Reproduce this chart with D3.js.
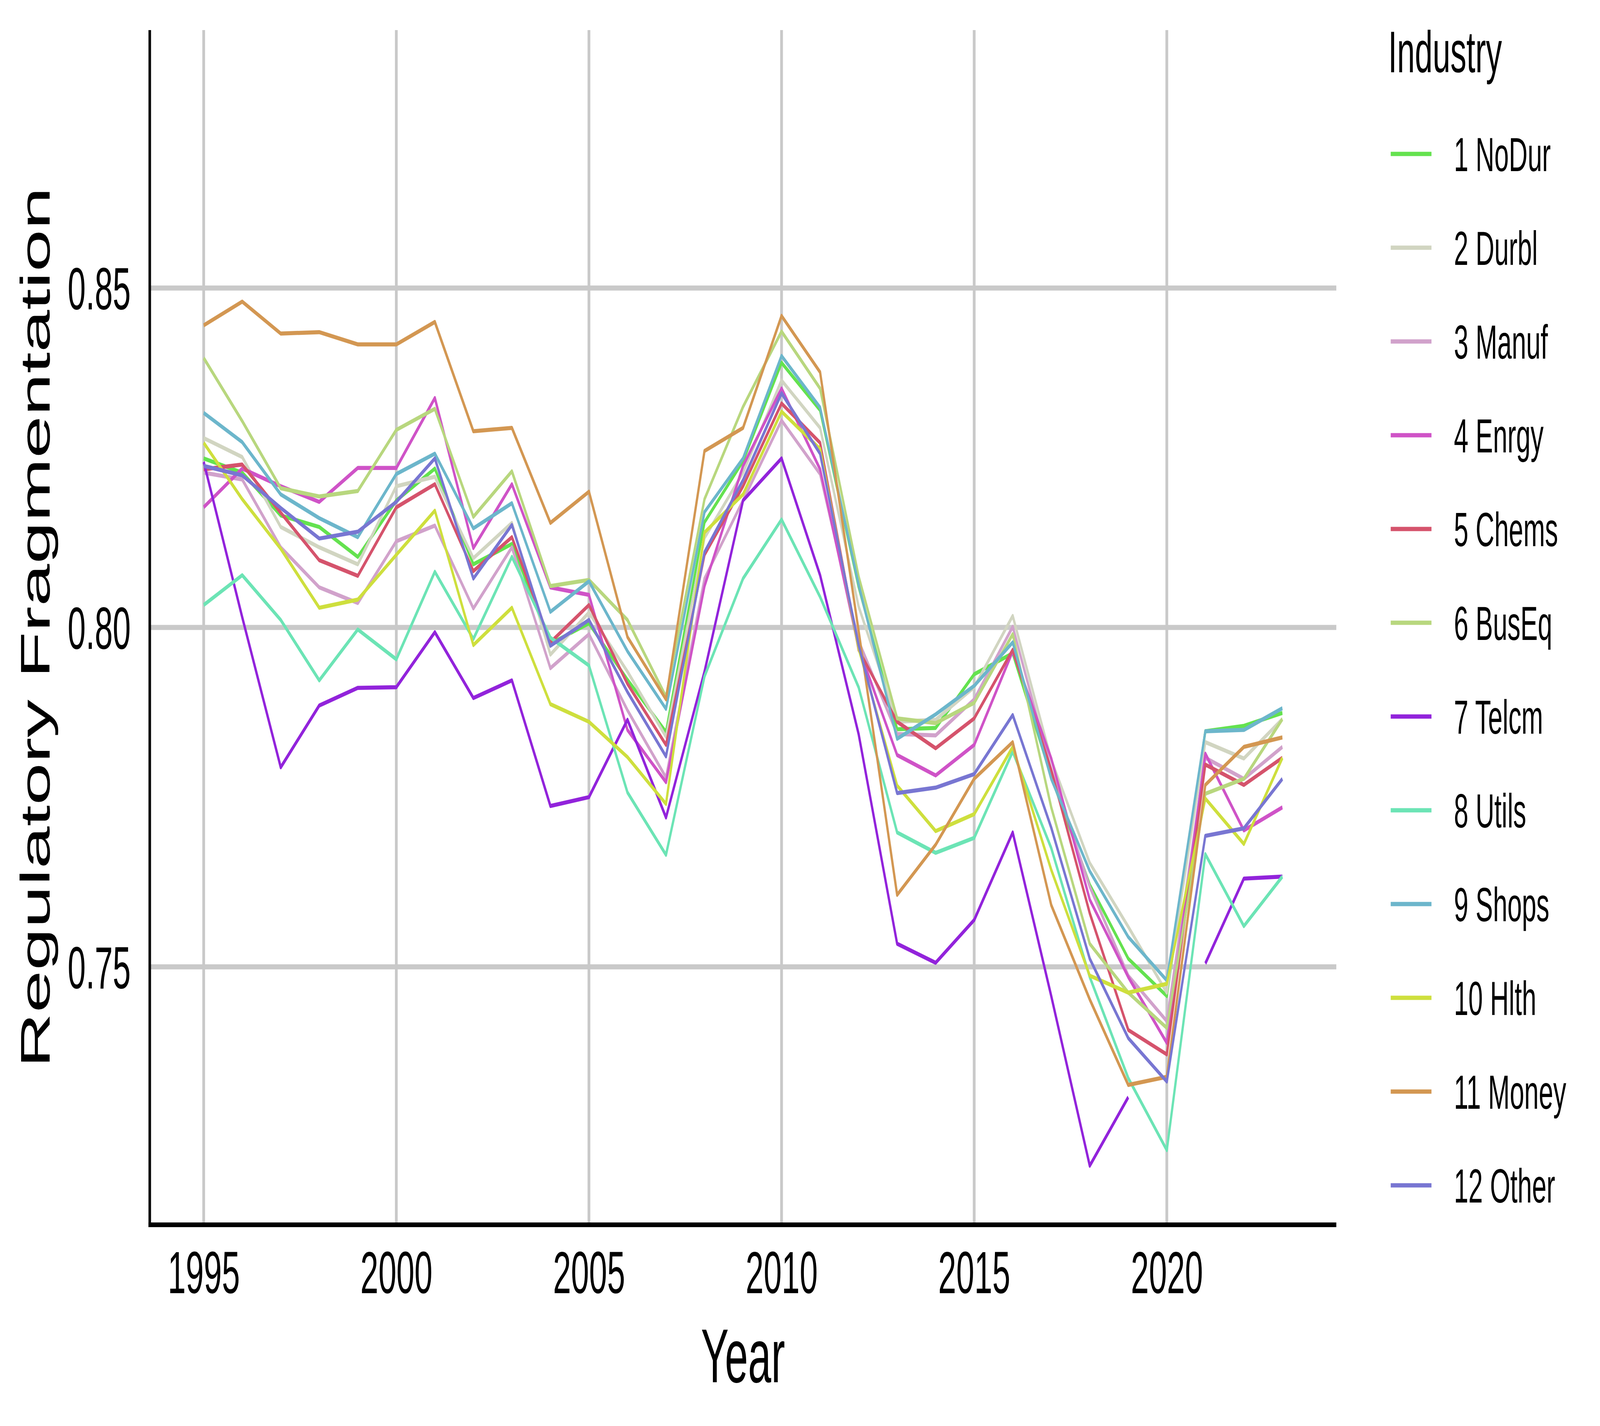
<!DOCTYPE html>
<html>
<head>
<meta charset="utf-8">
<script src="https://cdn.jsdelivr.net/npm/d3@7"></script>
<style>
  html, body { margin: 0; padding: 0; background: #ffffff; width: 100%; height: 100%; overflow: hidden; }
  svg { display: block; width: 100vw; height: 100vh; }
  text { font-family: "Liberation Sans", Arial, Helvetica, sans-serif; }
</style>
</head>
<body>
<svg id="chart" viewBox="0 0 7500 3650" preserveAspectRatio="none"></svg>
<script>
const years = d3.range(1995, 2024);
const industries = ["1 NoDur","2 Durbl","3 Manuf","4 Enrgy","5 Chems","6 BusEq","7 Telcm","8 Utils","9 Shops","10 Hlth","11 Money","12 Other"];
const colors = ["#64E24F","#D1D5C1","#D1A2CB","#CF53C7","#D5536C","#B8D77E","#9223DB","#6CE4B5","#6CB6CB","#CEDF3D","#D39752","#7876D2"];

const NoDur = [.8249,.8228,.8165,.8148,.8104,.8187,.8234,.8093,.8123,.7976,.8006,.7923,.7846,.8155,.8245,.8390,.8320,.8060,.7850,.7852,.7931,.7962,.7780,.7621,.7512,.7457,.7847,.7855,.7874];
const Durbl = [.8279,.8251,.8148,.8118,.8093,.8208,.8222,.8102,.8154,.7960,.8022,.7935,.7839,.8132,.8228,.8364,.8294,.8031,.7861,.7864,.7912,.8017,.7805,.7653,.7559,.7462,.7831,.7807,.7865];
const Manuf = [.8228,.8218,.8118,.8059,.8036,.8127,.8150,.8028,.8118,.7940,.7990,.7878,.7779,.8072,.8187,.8305,.8226,.7980,.7843,.7841,.7894,.8001,.7790,.7618,.7487,.7420,.7808,.7777,.7824];
const Enrgy = [.8177,.8234,.8208,.8185,.8235,.8235,.8338,.8117,.8211,.8059,.8048,.7849,.7772,.8061,.8238,.8352,.8233,.7970,.7812,.7782,.7827,.7965,.7807,.7599,.7485,.7388,.7814,.7701,.7735];
const Chems = [.8233,.8240,.8169,.8099,.8076,.8177,.8211,.8083,.8133,.7978,.8033,.7917,.7827,.8107,.8208,.8330,.8272,.7967,.7861,.7822,.7866,.7967,.7790,.7579,.7407,.7371,.7798,.7768,.7808];
const BusEq = [.8397,.8304,.8205,.8193,.8201,.8291,.8322,.8163,.8230,.8061,.8070,.8011,.7898,.8189,.8325,.8436,.8352,.8075,.7866,.7859,.7889,.7990,.7735,.7534,.7462,.7410,.7755,.7777,.7865];
const Telcm = [.8244,.8015,.7794,.7885,.7911,.7912,.7993,.7896,.7922,.7737,.7750,.7864,.7720,.7935,.8187,.8249,.8077,.7843,.7534,.7506,.7569,.7698,.7457,.7207,.7308,null,.7505,.7630,.7633];
const Utils = [.8033,.8077,.8011,.7922,.7997,.7953,.8082,.7983,.8104,.7985,.7944,.7757,.7665,.7928,.8072,.8159,.8045,.7912,.7698,.7668,.7690,.7817,.7675,.7485,.7336,.7230,.7666,.7560,.7633];
const Shops = [.8316,.8273,.8196,.8161,.8133,.8226,.8256,.8146,.8183,.8023,.8068,.7965,.7880,.8170,.8249,.8400,.8324,.8063,.7836,.7872,.7914,.7978,.7777,.7641,.7544,.7480,.7847,.7849,.7881];
const Hlth = [.8272,.8189,.8116,.8029,.8041,.8107,.8172,.7974,.8029,.7887,.7861,.7809,.7740,.8140,.8196,.8318,.8263,.7969,.7767,.7700,.7725,.7824,.7643,.7487,.7462,.7475,.7748,.7681,.7808];
const Money = [.8445,.8480,.8433,.8435,.8417,.8417,.8450,.8289,.8294,.8154,.8200,.7986,.7894,.8260,.8294,.8459,.8376,.7995,.7606,.7680,.7777,.7831,.7591,.7452,.7326,.7338,.7768,.7824,.7838];
const Other = [.8238,.8224,.8176,.8131,.8141,.8185,.8249,.8072,.8151,.7973,.8011,.7905,.7810,.8111,.8217,.8345,.8256,.7974,.7756,.7764,.7784,.7871,.7705,.7512,.7395,.7331,.7693,.7704,.7777];

const seriesValues = [NoDur, Durbl, Manuf, Enrgy, Chems, BusEq, Telcm, Utils, Shops, Hlth, Money, Other];
const xTicks = [1995, 2000, 2005, 2010, 2015, 2020];
const yTicks = [0.75, 0.80, 0.85];
const yLimits = [0.72, 0.88];

const svg = d3.select("#chart");
const panel = { left: 702, right: 6264, top: 77, bottom: 3135 };

const xPad = (2023 - 1995) * 0.05;
const x = d3.scaleLinear().domain([1995 - xPad, 2023 + xPad]).range([panel.left, panel.right]);
const yPad = (yLimits[1] - yLimits[0]) * 0.05;
const y = d3.scaleLinear().domain([yLimits[0] - yPad, yLimits[1] + yPad]).range([panel.bottom, panel.top]);

// grid
const grid = svg.append("g");
grid.selectAll("line.v").data(xTicks).join("line")
  .attr("x1", d => x(d)).attr("x2", d => x(d))
  .attr("y1", panel.top).attr("y2", panel.bottom)
  .attr("stroke", "#C9C9C9").attr("stroke-width", 13);
grid.selectAll("line.h").data(yTicks).join("line")
  .attr("x1", panel.left).attr("x2", panel.right)
  .attr("y1", d => y(d)).attr("y2", d => y(d))
  .attr("stroke", "#C9C9C9").attr("stroke-width", 13);

// lines
const line = d3.line()
  .defined(d => d.v !== null)
  .x(d => x(d.year))
  .y(d => y(d.v));

const lines = svg.append("g");
seriesValues.forEach((vals, i) => {
  const data = years.map((yr, j) => ({ year: yr, v: vals[j] }));
  lines.append("path")
    .datum(data)
    .attr("d", line)
    .attr("fill", "none")
    .attr("stroke", colors[i])
    .attr("stroke-width", 10.5)
    .attr("stroke-linejoin", "round")
    .attr("stroke-linecap", "butt");
});

// axes
const xAxis = d3.axisBottom(x).tickValues(xTicks).tickFormat(d3.format("d")).tickSize(0).tickPadding(0);
const gx = svg.append("g").attr("transform", `translate(0,${panel.bottom})`).call(xAxis);
gx.select(".domain").remove();
gx.selectAll("text")
  .attr("font-size", 152).attr("fill", "#000").attr("dy", null).attr("y", 175)
  .attr("font-family", "Liberation Sans, Arial, sans-serif");

const yAxis = d3.axisLeft(y).tickValues(yTicks).tickFormat(d3.format(".2f")).tickSize(0).tickPadding(0);
const gy = svg.append("g").attr("transform", `translate(${panel.left},0)`).call(yAxis);
gy.select(".domain").remove();
gy.selectAll("text")
  .attr("font-size", 152).attr("fill", "#000").attr("x", -89).attr("dy", "0.36em")
  .attr("font-family", "Liberation Sans, Arial, sans-serif");

svg.append("line")
  .attr("x1", panel.left).attr("x2", panel.left)
  .attr("y1", panel.top).attr("y2", panel.bottom + 6)
  .attr("stroke", "#000").attr("stroke-width", 12);
svg.append("line")
  .attr("x1", panel.left - 6).attr("x2", panel.right)
  .attr("y1", panel.bottom).attr("y2", panel.bottom)
  .attr("stroke", "#000").attr("stroke-width", 12);

// axis titles
svg.append("text")
  .attr("x", (panel.left + panel.right) / 2).attr("y", 3538)
  .attr("text-anchor", "middle").attr("font-size", 195).attr("fill", "#000")
  .text("Year");
svg.append("text")
  .attr("transform", `translate(233,${(panel.top + panel.bottom) / 2}) rotate(-90)`)
  .attr("text-anchor", "middle").attr("font-size", 195).attr("fill", "#000")
  .text("Regulatory Fragmentation");

// legend
const legend = svg.append("g");
legend.append("text")
  .attr("x", 6507).attr("y", 185)
  .attr("font-size", 150).attr("fill", "#000")
  .text("Industry");
const rows = legend.selectAll("g.row").data(industries).join("g")
  .attr("transform", (d, i) => `translate(0,${394 + 240 * i})`);
rows.append("line")
  .attr("x1", 6519).attr("x2", 6710).attr("y1", 0).attr("y2", 0)
  .attr("stroke", (d, i) => colors[i]).attr("stroke-width", 11);
rows.append("text")
  .attr("x", 6815).attr("y", 0).attr("dy", "0.36em")
  .attr("font-size", 122).attr("fill", "#000")
  .text(d => d);
</script>
</body>
</html>
